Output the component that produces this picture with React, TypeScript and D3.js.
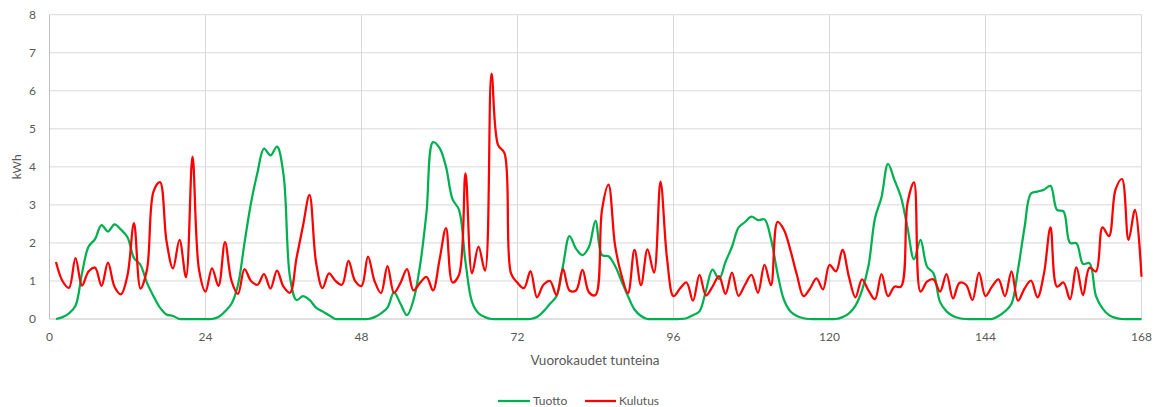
import React from "react";
import * as d3 from "d3";

const hours: number[] = d3.range(1, 169);
const xTicks: number[] = [0, 24, 48, 72, 96, 120, 144, 168];
const yTicks: number[] = [0, 1, 2, 3, 4, 5, 6, 7, 8];

const tuotto: number[] = [
  0, 0.05, 0.15, 0.35, 1.2, 1.9, 2.1, 2.47, 2.3, 2.49, 2.35, 2.15, 1.6, 1.42, 0.95, 0.6, 0.3, 0.12, 0.08, 0, 0, 0, 0, 0,
  0, 0.05, 0.2, 0.4, 0.9, 2.0, 3.05, 3.85, 4.48, 4.3, 4.53, 3.8, 1.1, 0.5, 0.6, 0.5, 0.3, 0.2, 0.1, 0, 0, 0, 0, 0,
  0, 0.05, 0.15, 0.3, 0.7, 0.4, 0.1, 0.5, 1.4, 2.8, 4.65, 4.5, 4.0, 3.15, 2.87, 1.5, 0.45, 0.15, 0.05, 0, 0, 0, 0, 0,
  0, 0, 0.05, 0.2, 0.4, 0.6, 1.4, 2.18, 1.85, 1.68, 1.9, 2.58, 1.68, 1.65, 1.4, 1.0, 0.6, 0.25, 0.08, 0, 0, 0, 0, 0,
  0, 0.02, 0.1, 0.2, 0.75, 1.3, 1.05, 1.5, 1.9, 2.4, 2.55, 2.69, 2.6, 2.62, 2.1, 1.2, 0.5, 0.2, 0.08, 0.02, 0, 0, 0, 0,
  0, 0.05, 0.15, 0.35, 0.75, 1.4, 2.65, 3.2, 4.08, 3.65, 3.2, 2.4, 1.57, 2.08, 1.38, 1.2, 0.45, 0.2, 0.08, 0.02, 0, 0, 0, 0,
  0, 0.08, 0.2, 0.4, 1.3, 2.4, 3.3, 3.35, 3.4, 3.5, 2.87, 2.83, 2.0, 1.99, 1.45, 1.47, 0.6, 0.28, 0.1, 0.03, 0, 0, 0, 0,
];

const kulutus: number[] = [
  1.5, 1.0, 0.82, 1.6, 0.88, 1.25, 1.35, 0.87, 1.48, 0.85, 0.65, 1.15, 2.52, 0.8, 1.3, 3.35, 3.6, 2.05, 1.33, 2.08, 1.1, 4.27, 1.3, 0.72,
  1.33, 0.87, 2.02, 1.0, 0.66, 1.31, 1.0, 0.9, 1.18, 0.8, 1.27, 0.85, 0.69, 1.6, 2.45, 3.26, 1.5, 0.81, 1.2, 1.0, 0.9, 1.53, 1.0, 0.87,
  1.64, 1.0, 0.68, 1.39, 0.69, 0.95, 1.31, 0.75, 0.95, 1.11, 0.75, 1.55, 2.39, 0.96, 1.16, 3.83, 1.2, 1.9, 1.27, 6.45, 4.58, 4.36, 1.2, 0.95,
  0.81, 1.26, 0.57, 0.9, 1.0, 0.63, 1.31, 0.75, 0.75, 1.29, 0.7, 0.63, 2.87, 3.53, 1.95, 1.15, 0.68, 1.82, 0.89, 1.83, 1.22, 3.61, 1.6, 0.6,
  0.8, 0.96, 0.48, 1.16, 0.62, 0.85, 1.13, 0.66, 1.22, 0.61, 0.9, 1.16, 0.69, 1.42, 0.89, 2.55, 2.34, 1.8, 1.15, 0.6, 0.8, 1.07, 0.78, 1.42,
  1.25, 1.82, 1.1, 0.57, 1.04, 0.75, 0.52, 1.18, 0.6, 0.85, 0.85, 3.04, 3.59, 0.72, 0.98, 1.04, 0.72, 1.18, 0.54, 0.95, 0.9, 0.5, 1.22, 0.6,
  0.85, 1.04, 0.6, 1.25, 0.48, 0.8, 1.01, 0.57, 1.2, 2.41, 0.85, 0.96, 0.52, 1.36, 0.63, 1.35, 1.25, 2.41, 2.18, 3.4, 3.68, 2.08, 2.87, 1.11,
];

const seriesNames = ["Tuotto", "Kulutus"];
const seriesColors = ["#00b050", "#ff0000"];

const W = 1155;
const H = 407;
const FONT = "Lato, 'Open Sans', sans-serif";
const TXT = "#595959";

export default function App() {
  const x = d3.scaleLinear().domain([0, 168]).range([49.5, 1141.5]);
  const y = d3.scaleLinear().domain([0, 8]).range([319, 14.7]);
  const line = d3
    .line<number>()
    .x((_, i) => x(hours[i]))
    .y((d) => y(d))
    .curve(d3.curveCatmullRom.alpha(0.5));

  const series = [tuotto, kulutus];

  return (
    <svg
      width={W}
      height={H}
      style={{ position: "absolute", left: 0, top: 0, background: "#fff" }}
      fontFamily={FONT}
    >
      {/* horizontal gridlines */}
      {yTicks.map((t) => (
        <line key={"h" + t} x1={x(0)} x2={x(168)} y1={y(t)} y2={y(t)} stroke={t === 0 ? "#bfbfbf" : "#d9d9d9"} strokeWidth={1} />
      ))}
      {/* vertical gridlines */}
      {xTicks.map((t) => (
        <line key={"v" + t} x1={x(t)} x2={x(t)} y1={y(8)} y2={y(0)} stroke={t === 0 ? "#bfbfbf" : "#d9d9d9"} strokeWidth={1} />
      ))}
      {/* y labels */}
      {yTicks.map((t) => (
        <text key={"yl" + t} x={36} y={y(t)} dy="0.35em" textAnchor="end" fontSize={12} fill={TXT}>
          {t}
        </text>
      ))}
      {/* x labels */}
      {xTicks.map((t) => (
        <text key={"xl" + t} x={x(t)} y={341} textAnchor="middle" fontSize={12} fill={TXT}>
          {t}
        </text>
      ))}
      <text x={0} y={0} transform={`translate(21,${y(4)}) rotate(-90)`} textAnchor="middle" fontSize={12} fill={TXT}>
        kWh
      </text>
      <text x={595} y={365} textAnchor="middle" fontSize={13.5} fill={TXT}>
        Vuorokaudet tunteina
      </text>
      {/* series */}
      {series.map((s, i) => (
        <path key={seriesNames[i]} d={line(s) || ""} fill="none" stroke={seriesColors[i]} strokeWidth={2.25} strokeLinejoin="round" />
      ))}
      {/* legend */}
      <g>
        <line x1={498} x2={530} y1={401} y2={401} stroke={seriesColors[0]} strokeWidth={2.25} />
        <text x={533} y={401} dy="0.35em" fontSize={12} fill={TXT}>
          {seriesNames[0]}
        </text>
        <line x1={585} x2={616} y1={401} y2={401} stroke={seriesColors[1]} strokeWidth={2.25} />
        <text x={619} y={401} dy="0.35em" fontSize={12} fill={TXT}>
          {seriesNames[1]}
        </text>
      </g>
    </svg>
  );
}
